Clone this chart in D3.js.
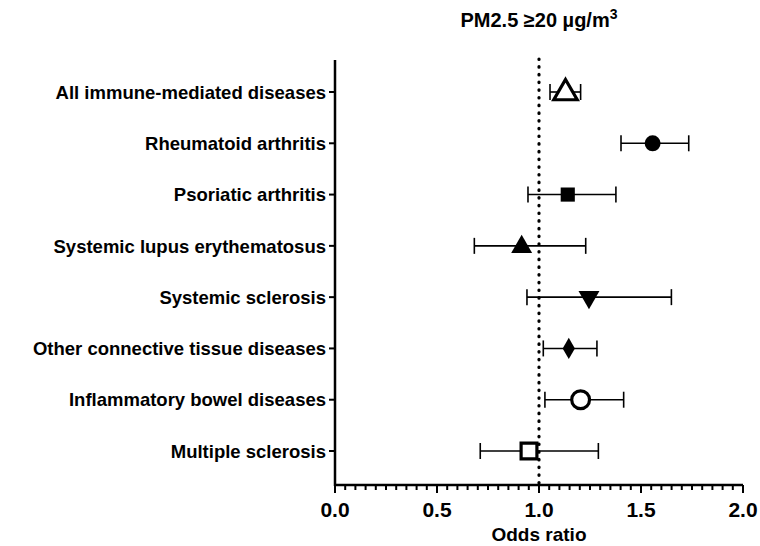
<!DOCTYPE html><html><head><meta charset="utf-8"><script src="https://cdn.jsdelivr.net/npm/d3@7"></script>
<style>body{margin:0;background:#fff}text{font-family:"Liberation Sans",Arial,sans-serif;font-weight:bold}</style></head><body>
<svg id="c" width="760" height="546"></svg>
<script>
const categories=["All immune-mediated diseases","Rheumatoid arthritis","Psoriatic arthritis","Systemic lupus erythematosus","Systemic sclerosis","Other connective tissue diseases","Inflammatory bowel diseases","Multiple sclerosis"];
const orValues=[1.13,1.557,1.141,0.915,1.245,1.146,1.204,0.951];
const lowerCI=[1.054,1.402,0.946,0.683,0.941,1.021,1.029,0.712];
const upperCI=[1.204,1.734,1.377,1.229,1.649,1.284,1.415,1.291];
const symbols=["triangleOpen","circle","square","triangle","triangleDown","diamond","circleOpen","squareOpen"];
const xTicks=[0,0.5,1.0,1.5,2.0];
const svg=d3.select("#c");
const x=d3.scaleLinear().domain([0,2]).range([335,743]);
const y=d3.scalePoint().domain(categories).range([92,451]);
svg.append("line").attr("x1",335).attr("x2",335).attr("y1",60).attr("y2",486).attr("stroke","#000").attr("stroke-width",2.5);
categories.forEach(c=>{svg.append("line").attr("x1",329).attr("x2",335).attr("y1",y(c)).attr("y2",y(c)).attr("stroke","#000").attr("stroke-width",2);
svg.append("text").attr("x",326).attr("y",y(c)).attr("dy","0.36em").attr("text-anchor","end").attr("font-size",18.5).text(c);});
const xa=svg.append("g").attr("transform","translate(0,485)");
xa.append("line").attr("x1",335).attr("x2",743).attr("stroke","#000").attr("stroke-width",2.5);
d3.range(0,41).forEach(i=>{const v=i*0.05;const major=i%10==0;
xa.append("line").attr("x1",x(v)).attr("x2",x(v)).attr("y1",0).attr("y2",major?8:5).attr("stroke","#000").attr("stroke-width",2);});
xTicks.forEach(t=>xa.append("text").attr("x",x(t)).attr("y",32).attr("text-anchor","middle").attr("font-size",21).text(t.toFixed(1)));
svg.append("text").attr("x",x(1)).attr("y",541).attr("text-anchor","middle").attr("font-size",19).text("Odds ratio");
svg.append("text").attr("x",x(1)).attr("y",27).attr("text-anchor","middle").attr("font-size",20).html('PM2.5 ≥20 µg/m<tspan dy="-8" font-size="14">3</tspan>');
svg.append("line").attr("x1",x(1)).attr("x2",x(1)).attr("y1",59).attr("y2",485).attr("stroke","#000").attr("stroke-width",3.2).attr("stroke-dasharray","0.5,7.2").attr("stroke-linecap","round");
categories.forEach((c,i)=>{const yy=y(c);
svg.append("line").attr("x1",x(lowerCI[i])).attr("x2",x(upperCI[i])).attr("y1",yy).attr("y2",yy).attr("stroke","#000").attr("stroke-width",1.6);
[lowerCI[i],upperCI[i]].forEach(v=>svg.append("line").attr("x1",x(v)).attr("x2",x(v)).attr("y1",yy-8).attr("y2",yy+8).attr("stroke","#000").attr("stroke-width",1.6));
const s=symbols[i];const g=svg.append("g").attr("transform",`translate(${x(orValues[i])},${yy})`);
const open=s.endsWith("Open");const base=s.replace("Open","");
let type={triangle:d3.symbolTriangle,circle:d3.symbolCircle,square:d3.symbolSquare,triangleDown:d3.symbolTriangle,diamond:d3.symbolDiamond}[base];
const size={triangle:190,circle:200,square:200,triangleDown:190,diamond:130}[base];
const p=g.append("path").attr("d",d3.symbol().type(type).size(open?size*1.25:size)());
if(base==="triangleDown")p.attr("transform","rotate(180)");
if(base==="triangle")p.attr("transform","translate(0,1)");
if(open)p.attr("fill","#fff").attr("stroke","#000").attr("stroke-width",3.2);else p.attr("fill","#000");
});
</script></body></html>
